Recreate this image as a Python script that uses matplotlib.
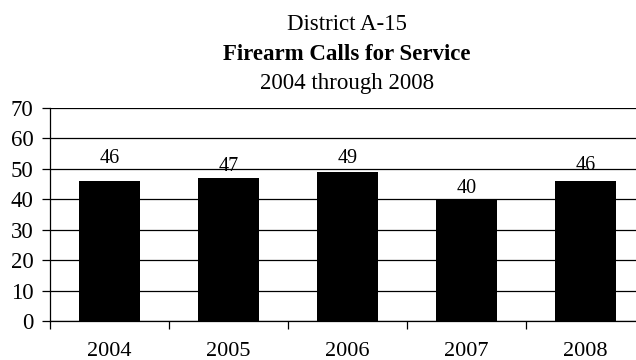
import matplotlib
matplotlib.use("Agg")
import matplotlib.pyplot as plt

# datos
anios = ["2004", "2005", "2006", "2007", "2008"]
llamadas = [46, 47, 49, 40, 46]

# desplazamiento de cada etiqueta sobre la barra (puntos)
desplaz_etiquetas = [16.5, 8.5, 10, 8, 11]

plt.rcParams["font.family"] = ["Liberation Serif", "DejaVu Serif"]

fig = plt.figure(figsize=(6.36, 3.6), dpi=100)
ax = fig.add_axes([50 / 636, 39 / 360, 595 / 636, 213 / 360])

x = range(len(anios))
barras = ax.bar(x, llamadas, width=0.51, color="black", zorder=3)

for b, v, d in zip(barras, llamadas, desplaz_etiquetas):
    ax.annotate(str(v), (b.get_x() + b.get_width() / 2, v),
                xytext=(0, d), textcoords="offset points",
                ha="center", va="center", fontsize=14.5, zorder=4)

ax.set_xlim(-0.5, len(anios) - 0.5)
ax.set_ylim(0, 70)
ax.set_yticks(range(0, 71, 10))
ax.yaxis.grid(True, color="black", linewidth=0.9, zorder=0)

# marcas del eje x entre categorias
ax.set_xticks([i - 0.5 for i in range(len(anios) + 1)])
ax.set_xticklabels([])
ax.set_xticks(list(x), minor=True)
ax.set_xticklabels(anios, minor=True, fontsize=16)
ax.tick_params(axis="x", which="major", length=6, width=0.9, direction="out")
ax.tick_params(axis="x", which="minor", length=0, pad=15)
ax.tick_params(axis="y", length=6, width=0.9, pad=6, labelsize=16.5)

for lado in ["top", "right"]:
    ax.spines[lado].set_visible(False)
ax.spines["left"].set_linewidth(0.9)
ax.spines["bottom"].set_linewidth(0.9)

# titulo en tres lineas
cx = 347 / 636
fig.text(cx, 1 - 24 / 360, "District A-15", ha="center", va="center", fontsize=16.5)
fig.text(cx, 1 - 54 / 360, "Firearm Calls for Service", ha="center", va="center",
         fontsize=16.5, fontweight="bold")
fig.text(cx, 1 - 83 / 360, "2004 through 2008", ha="center", va="center", fontsize=16.5)

fig.savefig("out.png", dpi=100)
